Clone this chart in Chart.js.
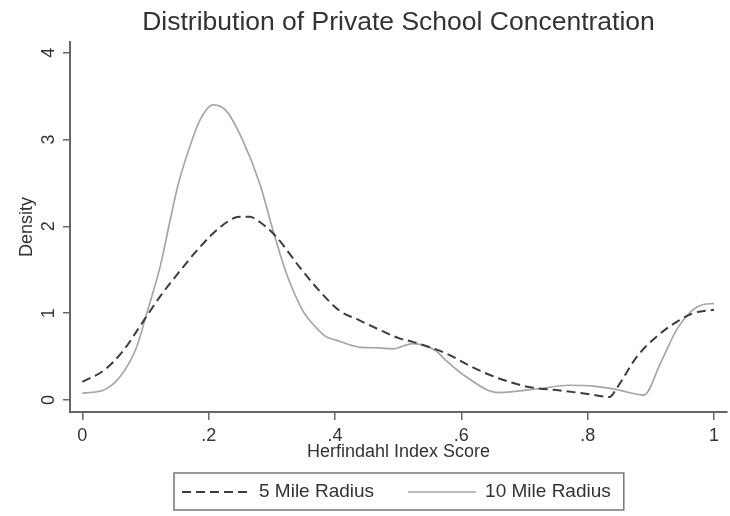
<!DOCTYPE html>
<html>
<head>
<meta charset="utf-8">
<title>Distribution of Private School Concentration</title>
<script src="https://cdn.jsdelivr.net/npm/chart.js@4.4.1/dist/chart.umd.min.js"></script>
<style>
  body { margin: 0; background: #fff; }
</style>
</head>
<body>
<canvas id="densityChart" width="730" height="516"></canvas>
<script>
// valeurs (estimations)
let titre = 'Distribution of Private School Concentration';
let xTitre = 'Herfindahl Index Score';
let yTitre = 'Density';
let series = ['5 Mile Radius', '10 Mile Radius'];

let xTicks = [0, 0.2, 0.4, 0.6, 0.8, 1];
let xTickLabels = ['0', '.2', '.4', '.6', '.8', '1'];
let yTicks = [0, 1, 2, 3, 4];
let yTickLabels = ['0', '1', '2', '3', '4'];

// 5 mile radius (dashed)
let x5 = [0, 0.034, 0.065, 0.094, 0.123, 0.155, 0.186, 0.218, 0.249, 0.265, 0.281, 0.307, 0.344, 0.375, 0.407, 0.438,
          0.47, 0.502, 0.523, 0.575, 0.617, 0.659, 0.707, 0.756, 0.80, 0.835, 0.846, 0.878, 0.909, 0.941, 0.967, 1.0];
let y5 = [0.21, 0.34, 0.57, 0.88, 1.19, 1.49, 1.76, 1.99, 2.11, 2.11, 2.05, 1.88, 1.53, 1.26, 1.03, 0.92,
          0.81, 0.71, 0.67, 0.54, 0.38, 0.25, 0.15, 0.11, 0.07, 0.035, 0.135, 0.50, 0.73, 0.90, 1.0, 1.04];

// 10 mile radius (solid)
let x10 = [0, 0.034, 0.06, 0.086, 0.102, 0.123, 0.139, 0.152, 0.168, 0.186, 0.207, 0.228, 0.254, 0.281, 0.302, 0.323,
           0.349, 0.372, 0.386, 0.402, 0.438, 0.47, 0.491, 0.523, 0.559, 0.575, 0.607, 0.659, 0.722, 0.77, 0.809, 0.846,
           0.889, 0.915, 0.941, 0.967, 0.983, 1.0];
let y10 = [0.08, 0.115, 0.27, 0.61, 1.0, 1.53, 2.07, 2.49, 2.87, 3.22, 3.40, 3.33, 2.99, 2.49, 1.95, 1.46,
           1.03, 0.82, 0.73, 0.69, 0.61, 0.60, 0.59, 0.65, 0.57, 0.46, 0.27, 0.085, 0.13, 0.17, 0.16, 0.12,
           0.057, 0.42, 0.81, 1.04, 1.10, 1.11];

let police = '"Liberation Sans", Arial, sans-serif';
let gris = '#333';

function toPoints(xs, ys) {
    return xs.map((x, i) => ({ x: x, y: ys[i] }));
} // paires x/y pour chart.js

// legende encadree sous le graphique (style stata)
let legendeCadre = {
    id: 'legendeCadre',
    afterDraw(chart) {
        let ctx = chart.ctx;
        let area = chart.chartArea;
        let sets = chart.data.datasets;
        let sampleW = 68, textGap = 9, itemGap = 34, padL = 8, padR = 13;
        ctx.save();
        ctx.font = '19px ' + police;
        let widths = sets.map(ds => ctx.measureText(ds.label).width);
        let total = padL + padR + widths.reduce((a, w) => a + sampleW + textGap + w, 0) + itemGap * (sets.length - 1);
        let left = Math.round((area.left + area.right) / 2 - total / 2);
        let top = 473, h = 37;
        let midY = top + h / 2 + 0.5;

        ctx.strokeStyle = '#777';
        ctx.lineWidth = 1.5;
        ctx.strokeRect(left, top, total, h);

        let x = left + padL;
        sets.forEach((ds, i) => {
            ctx.beginPath();
            ctx.setLineDash(ds.borderDash || []);
            ctx.strokeStyle = ds.borderColor;
            ctx.lineWidth = ds.borderWidth;
            ctx.moveTo(x, midY);
            ctx.lineTo(x + sampleW, midY);
            ctx.stroke();
            ctx.setLineDash([]);
            x += sampleW + textGap;
            ctx.fillStyle = gris;
            ctx.textBaseline = 'middle';
            ctx.textAlign = 'left';
            ctx.fillText(ds.label, x, midY);
            x += widths[i] + itemGap;
        });
        ctx.restore();
    }
};

let ctx = document.getElementById('densityChart').getContext('2d');
let chart = new Chart(ctx, {
    type: 'line',
    data: {
        datasets: [
            {
                label: series[0],
                data: toPoints(x5, y5),
                borderColor: '#3c3c3c',
                borderWidth: 2,
                borderDash: [9, 5],
                pointRadius: 0,
                fill: false,
                cubicInterpolationMode: 'monotone'
            },
            {
                label: series[1],
                data: toPoints(x10, y10),
                borderColor: '#a6a6a6',
                borderWidth: 1.7,
                pointRadius: 0,
                fill: false,
                cubicInterpolationMode: 'monotone'
            }
        ]
    },
    options: {
        responsive: false,
        animation: false,
        devicePixelRatio: 1,
        layout: { padding: { top: 0, left: 0, right: 3, bottom: 51 } },
        plugins: {
            legend: { display: false },
            tooltip: { enabled: false },
            title: {
                display: true,
                text: titre,
                fullSize: false,
                color: gris,
                font: { family: police, size: 26.5, weight: 'normal' },
                padding: { top: 7, bottom: 3.2 }
            }
        },
        scales: {
            x: {
                type: 'linear',
                min: -0.0195,
                max: 1.0206,
                afterFit: scale => { scale.height = 53; },
                afterBuildTicks: scale => { scale.ticks = xTicks.map(v => ({ value: v })); },
                grid: { drawOnChartArea: false, drawTicks: true, tickLength: 8, color: '#666', lineWidth: 1.5 },
                border: { display: true, color: '#666', width: 2 },
                ticks: {
                    color: gris,
                    padding: 5,
                    maxRotation: 0,
                    font: { family: police, size: 18 },
                    callback: value => xTickLabels[xTicks.indexOf(value)]
                },
                title: {
                    display: true,
                    text: xTitre,
                    color: gris,
                    font: { family: police, size: 18 },
                    padding: { top: 0, bottom: 2 }
                }
            },
            y: {
                type: 'linear',
                min: -0.138,
                max: 4.123,
                afterFit: scale => { scale.width = 70; },
                afterBuildTicks: scale => { scale.ticks = yTicks.map(v => ({ value: v })); },
                grid: { drawOnChartArea: false, drawTicks: true, tickLength: 7, color: '#666', lineWidth: 1.5 },
                border: { display: true, color: '#666', width: 2 },
                ticks: {
                    color: gris,
                    padding: 9,
                    minRotation: 90,
                    maxRotation: 90,
                    crossAlign: 'center',
                    font: { family: police, size: 18 },
                    callback: value => yTickLabels[yTicks.indexOf(value)]
                },
                title: {
                    display: true,
                    text: yTitre,
                    color: gris,
                    font: { family: police, size: 18 },
                    padding: { top: 16, bottom: 0 }
                }
            }
        }
    },
    plugins: [legendeCadre]
});
</script>
</body>
</html>
